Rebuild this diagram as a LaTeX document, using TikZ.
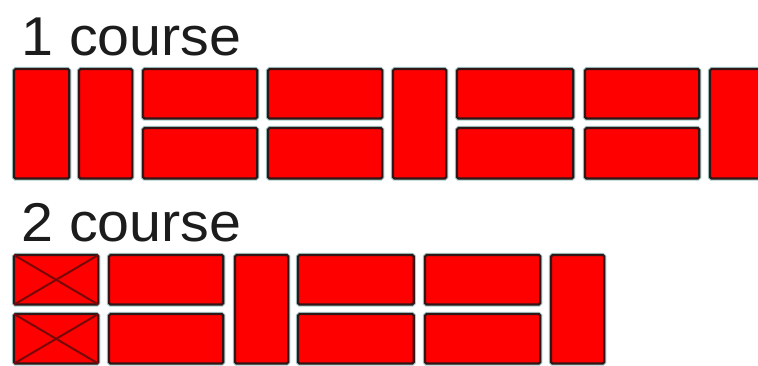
\documentclass[tikz,border=0pt]{standalone}
\usepackage{fontspec}
\setmainfont[FakeStretch=1.05]{Liberation Sans}
\definecolor{brickred}{RGB}{255,0,0}
\definecolor{brickline}{RGB}{50,22,22}
\definecolor{halo}{RGB}{165,205,205}
\definecolor{crossline}{RGB}{120,8,8}
\definecolor{labelink}{RGB}{28,28,28}
\tikzset{
  brick/.style={draw=brickline, fill=brickred, line width=1.7pt, rounded corners=1.2pt,
    inner sep=0pt, outer sep=0pt, anchor=north west,
    preaction={draw=halo, line width=3.2pt}},
  crossing/.style={draw=crossline, line width=1.5pt},
  heading/.style={anchor=base west, inner sep=0pt, text=labelink, font=\fontsize{41pt}{41pt}\selectfont}
}
\newcommand{\brickat}[5]{%
  \pgfmathsetmacro{\bw}{(#4-#2-0.7)*0.75}%
  \pgfmathsetmacro{\bh}{(#5-#3-0.4)*0.75}%
  \node[brick, minimum width=\bw pt, minimum height=\bh pt] (#1) at (#2,#3) {};%
}
\begin{document}
\begin{tikzpicture}[x=0.75pt,y=-0.75pt]
\useasboundingbox (0,0) rectangle (758,365);
\clip (0,0) rectangle (758,365);
\fill[white] (0,0) rectangle (758,365);
\node[heading] (one) at (21,55) {1 course};
\node[heading] (two) at (21,241.5) {2 course};
% course 1
\brickat{a1}{14}{69}{70}{179}
\brickat{a2}{79}{69}{133}{179}
\brickat{a3}{143}{69}{258}{119}
\brickat{a4}{143}{128}{258}{179}
\brickat{a5}{268}{69}{383}{119}
\brickat{a6}{268}{128}{383}{179}
\brickat{a7}{393}{69}{447}{179}
\brickat{a8}{457}{69}{574}{119}
\brickat{a9}{457}{128}{574}{179}
\brickat{a10}{585}{69}{700}{119}
\brickat{a11}{585}{128}{700}{179}
\brickat{a12}{710}{69}{780}{179}
% course 2
\brickat{b1}{14}{255}{99}{305}
\brickat{b2}{14}{314}{99}{364}
\brickat{b3}{109}{255}{224}{305}
\brickat{b4}{109}{314}{224}{364}
\brickat{b5}{235}{255}{289}{364}
\brickat{b6}{298}{255}{414.5}{305}
\brickat{b7}{298}{314}{414.5}{364}
\brickat{b8}{425}{255}{541}{305}
\brickat{b9}{425}{314}{541}{364}
\brickat{b10}{551}{255}{605}{364}
\draw[crossing] (b1.north west) -- (b1.south east);
\draw[crossing] (b1.north east) -- (b1.south west);
\draw[crossing] (b2.north west) -- (b2.south east);
\draw[crossing] (b2.north east) -- (b2.south west);
\end{tikzpicture}
\end{document}
